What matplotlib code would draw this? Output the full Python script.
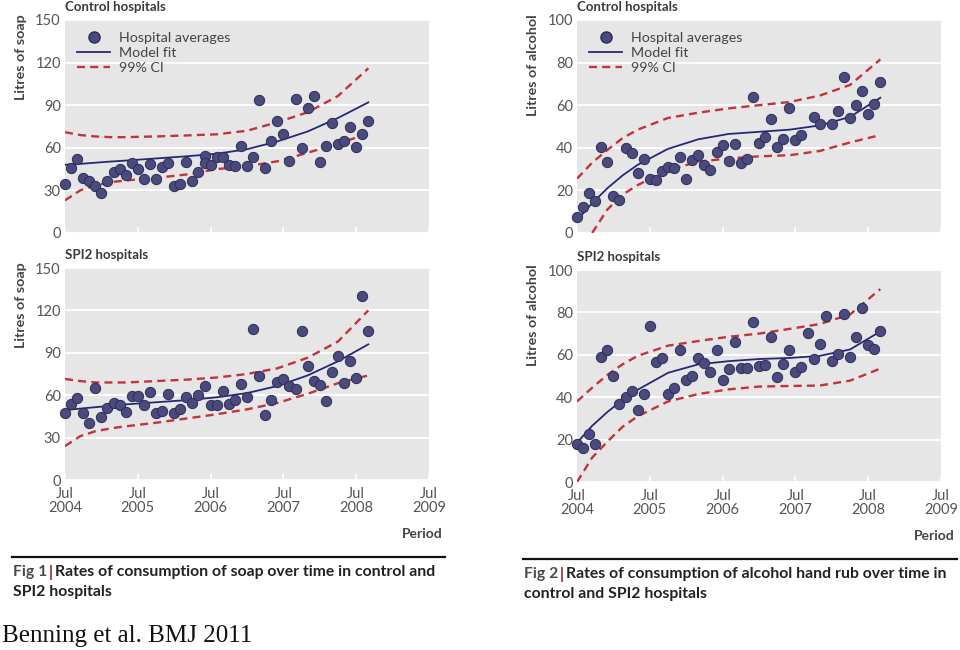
import numpy as np
import matplotlib
matplotlib.use("Agg")
import matplotlib.pyplot as plt
from matplotlib.lines import Line2D
from matplotlib.text import Annotation

plt.rcParams['font.family'] = ['Lato', 'DejaVu Sans']

# x positions are months after Jul 2004
tick_months = [0, 12, 24, 36, 48, 60]
tick_labels = ["Jul\n2004", "Jul\n2005", "Jul\n2006", "Jul\n2007", "Jul\n2008", "Jul\n2009"]
curve_months = [0, 2.5, 5, 7.5, 10, 15, 20, 25, 30, 35, 40, 45, 50]

# Fig 1 - soap, control hospitals
soap_ctrl_months = list(range(0, 24)) + [23] + list(range(24, 51))
soap_ctrl = [34.4, 45.7, 52.0, 38.9, 36.3, 33.2, 28.5, 36.3, 43.1, 45.0,
             41.0, 49.0, 45.2, 37.9, 48.3, 37.7, 46.4, 49.4, 33.0, 34.8,
             49.9, 36.3, 43.3, 54.2, 49.2, 47.8, 53.7, 53.7, 48.0, 47.1,
             61.5, 46.9, 53.7, 93.5, 45.7, 64.8, 78.9, 69.5, 50.9, 94.4,
             60.0, 87.8, 96.3, 49.7, 61.0, 77.2, 62.9, 64.8, 74.6, 60.5,
             69.9, 78.9]
soap_ctrl_fit = [48, 48.7, 49.5, 50.3, 51, 52.5, 54, 55.8, 59, 64.5, 71.5, 81, 92]
soap_ctrl_hi = [71, 69, 68, 67.5, 67.5, 68, 68.7, 69.5, 72, 78, 85, 96.5, 116]
soap_ctrl_lo = [23, 30, 33.5, 35.8, 37, 38.8, 41.2, 45, 47, 50.5, 56.5, 63, 70]

# Fig 1 - soap, SPI2 hospitals
soap_spi_months = list(range(0, 51))
soap_spi = [47.7, 54.1, 57.9, 47.5, 40.6, 65.0, 44.6, 50.6, 54.8, 53.2,
            48.2, 59.1, 59.1, 52.9, 62.1, 47.7, 48.9, 60.7, 47.7, 50.1,
            58.6, 54.8, 59.8, 66.4, 52.9, 53.4, 63.1, 53.6, 56.7, 67.6,
            58.6, 107.0, 73.9, 45.8, 56.5, 69.0, 71.3, 66.6, 64.7, 105.6,
            80.6, 70.4, 66.9, 55.8, 76.5, 87.6, 68.7, 83.9, 72.3, 130.4,
            105.1]
soap_spi_fit = [49.5, 50.5, 51.5, 52.5, 53.5, 55, 56.5, 58.5, 61.5, 66.5, 74, 84, 96]
soap_spi_hi = [71.5, 70, 69, 69, 69, 70, 71, 72.5, 75, 79, 86.5, 98, 120]
soap_spi_lo = [24, 31, 34.5, 36.5, 38, 40.5, 43.5, 46.5, 50, 54.5, 61, 68.5, 74]

# Fig 2 - alcohol, control hospitals
alc_ctrl_months = list(range(0, 38)) + [39, 40] + list(range(42, 51))
alc_ctrl = [7.7, 12.1, 19.0, 14.8, 40.6, 33.5, 17.5, 15.4, 40.1, 37.7,
            28.1, 34.7, 25.2, 24.8, 29.1, 30.8, 30.3, 35.7, 25.2, 34.4,
            36.6, 31.8, 29.6, 37.9, 41.2, 34.0, 41.8, 32.9, 34.6, 64.0,
            42.1, 45.3, 53.6, 40.3, 44.0, 58.6, 43.7, 45.8, 54.6, 51.4,
            51.1, 57.5, 73.1, 53.8, 59.9, 66.5, 56.0, 60.4, 70.8]
alc_ctrl_fit = [6, 14, 21, 27, 32, 39.5, 44, 46.5, 47.5, 48.5, 50.5, 54.5, 63.5]
alc_ctrl_hi = [25.5, 33, 39, 44.5, 48.5, 54, 56.5, 58.5, 60, 61.5, 64.5, 69.5, 81.5]
alc_ctrl_lo = [np.nan, 0, 11, 18, 22.5, 29.5, 33.5, 35, 36, 36.5, 38.5, 42.5, 46]

# Fig 2 - alcohol, SPI2 hospitals
alc_spi_months = list(range(0, 51))
alc_spi = [17.8, 16.1, 22.8, 18.1, 58.9, 62.4, 50.1, 36.9, 40.2, 43.1,
           33.9, 41.6, 73.7, 56.4, 58.3, 41.6, 44.4, 62.2, 48.2, 49.9,
           58.3, 55.9, 52.0, 62.2, 47.9, 53.5, 66.0, 53.9, 53.9, 75.3,
           54.8, 55.3, 68.3, 49.3, 55.6, 62.4, 51.8, 54.2, 70.2, 58.0,
           65.0, 78.4, 56.9, 60.5, 79.2, 58.9, 68.5, 82.2, 64.7, 62.7,
           71.2]
alc_spi_fit = [18.5, 26.5, 33, 38.7, 43.5, 51.5, 55.5, 57, 58, 58.5, 59.5, 62.5, 71]
alc_spi_hi = [38, 44.5, 50.5, 55.5, 59.5, 64.3, 66.5, 68.5, 70, 72.2, 74.5, 79, 91]
alc_spi_lo = [0, 11.5, 19, 26, 31, 38, 41.5, 43.7, 45, 45.3, 45.5, 47.8, 53.5]

BG = '#e6e6e6'
TXT = '#555555'
DOT = '#4a4a7e'
FIT = '#27277a'
CI = '#c4323a'

fig = plt.figure(figsize=(9.6, 6.5), dpi=100)
W, H = 960.0, 650.0


def rect(x0, y0, x1, y1):
    return [x0 / W, 1 - y1 / H, (x1 - x0) / W, (y1 - y0) / H]


def panel(r, months, vals, fit, hi, lo, ymax, ystep, title, ylabel, bottom, legend):
    ax = fig.add_axes(r)
    ax.set_facecolor(BG)
    for s in ax.spines.values():
        s.set_visible(False)
    ax.set_xlim(0, 60)
    ax.set_ylim(0, ymax)
    ax.set_yticks(np.arange(0, ymax + 1, ystep))
    ax.grid(axis='y', color='white', lw=1.3)
    ax.set_axisbelow(True)
    ax.tick_params(axis='y', length=0, pad=3, labelsize=10.5, labelcolor=TXT)
    ax.set_xticks(tick_months)
    if bottom:
        ax.set_xticklabels(tick_labels, linespacing=1.0)
    else:
        ax.set_xticklabels([])
    ax.tick_params(axis='x', direction='in', length=4, width=1.2, color='white',
                   pad=5, labelsize=10.5, labelcolor=TXT)

    ax.plot(curve_months, hi, color=CI, lw=1.7, dashes=(3.4, 2.2), zorder=3)
    ax.plot(curve_months, lo, color=CI, lw=1.7, dashes=(3.4, 2.2), zorder=3)
    ax.plot(curve_months, fit, color=FIT, lw=1.3, zorder=3)
    ax.scatter(months, vals, s=55, color=DOT, edgecolors='#2c2c55', linewidths=0.7,
               zorder=4, clip_on=False)

    ax.text(0, 1.062, title, transform=ax.transAxes, ha='left', va='center',
            fontsize=9.5, fontweight='bold', color='#3a3a3a')
    ax.text(-0.121, 1.025, ylabel, transform=ax.transAxes, rotation=90,
            ha='center', va='top', fontsize=10.3, fontweight='bold', color='#444444')

    if legend:
        h = [Line2D([], [], ls='none', marker='o', ms=8, mfc=DOT, mec='#2c2c55'),
             Line2D([], [], color=FIT, lw=1.3),
             Line2D([], [], color=CI, lw=1.7, dashes=(3.4, 2.2))]
        ax.legend(h, ["Hospital averages", "Model fit", "99% CI"], loc='upper left',
                  frameon=False, fontsize=10.3, labelspacing=0.2, handlelength=2.3,
                  handletextpad=0.6, borderaxespad=0.45, borderpad=0.4,
                  labelcolor='#444444')
    return ax


panel(rect(65, 20, 429, 233), soap_ctrl_months, soap_ctrl, soap_ctrl_fit,
      soap_ctrl_hi, soap_ctrl_lo, 150, 30, "Control hospitals", "Litres of soap", False, True)
panel(rect(65, 268, 429, 480), soap_spi_months, soap_spi, soap_spi_fit,
      soap_spi_hi, soap_spi_lo, 150, 30, "SPI2 hospitals", "Litres of soap", True, False)
panel(rect(577, 20, 941, 233), alc_ctrl_months, alc_ctrl, alc_ctrl_fit,
      alc_ctrl_hi, alc_ctrl_lo, 100, 20, "Control hospitals", "Litres of alcohol", False, True)
panel(rect(577, 270, 941, 482), alc_spi_months, alc_spi, alc_spi_fit,
      alc_spi_hi, alc_spi_lo, 100, 20, "SPI2 hospitals", "Litres of alcohol", True, False)

fig.text(443 / W, 1 - 534 / H, "Period", ha='right', va='center', fontsize=10,
         fontweight='bold', color='#444444')
fig.text(955 / W, 1 - 536 / H, "Period", ha='right', va='center', fontsize=10,
         fontweight='bold', color='#444444')

# caption rules and captions
fig.add_artist(Line2D([12 / W, 445 / W], [1 - 557 / H, 1 - 557 / H], color='#111111', lw=1.6))
fig.add_artist(Line2D([523 / W, 957 / W], [1 - 559 / H, 1 - 559 / H], color='#111111', lw=1.6))

CAP = 11.3


def caption(x, y1, y2, num, line1, line2):
    t = fig.text(x / W, 1 - y1 / H, "Fig " + num, ha='left', va='center',
                 fontsize=CAP, fontweight='bold', color='#4a4a4a')
    bar = Annotation("|", xy=(1, 0.5), xycoords=t, xytext=(1, 0),
                     textcoords='offset points', ha='left', va='center',
                     fontsize=CAP, fontweight='bold', color='#8b1a1a')
    fig.add_artist(bar)
    rest = Annotation(line1, xy=(1, 0.5), xycoords=bar, xytext=(1.5, 0),
                      textcoords='offset points', ha='left', va='center',
                      fontsize=CAP, fontweight='bold', color='#222222')
    fig.add_artist(rest)
    fig.text(x / W, 1 - y2 / H, line2, ha='left', va='center', fontsize=CAP,
             fontweight='bold', color='#222222')


caption(13, 572, 592, "1", "Rates of consumption of soap over time in control and",
        "SPI2 hospitals")
caption(524, 574, 594, "2", "Rates of consumption of alcohol hand rub over time in",
        "control and SPI2 hospitals")

fig.text(2 / W, 1 - 636 / H, "Benning et al. BMJ 2011", ha='left', va='center',
         fontsize=18, family='Liberation Serif', color='#111111')

fig.savefig("out.png", dpi=100, facecolor='white')
